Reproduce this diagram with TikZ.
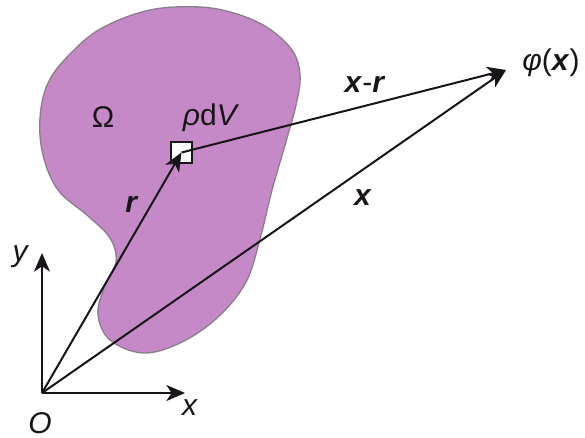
\documentclass[tikz,border=0pt]{standalone}
\usepackage{fontspec}
\setmainfont{Liberation Sans}
\usetikzlibrary{arrows.meta}
\definecolor{blobfill}{RGB}{198,137,200}
\definecolor{blobline}{RGB}{140,125,140}
\definecolor{ink}{RGB}{25,20,25}
\tikzset{
  vec/.style={draw=ink, line width=1.5pt, -{Stealth[length=14pt,width=12pt,inset=4pt]}},
  lbl/.style={inner sep=0pt, font=\fontsize{22.5}{26}\selectfont, text=ink},
  volbox/.style={draw=ink, fill=white, line width=1.4pt, minimum size=16pt, inner sep=0pt}
}
\begin{document}
\begin{tikzpicture}[x=0.75pt,y=-0.75pt]
\useasboundingbox (0,0) rectangle (585,438);
% region Omega
\draw[fill=blobfill, draw=blobline, line width=1pt]
  plot[smooth cycle, tension=0.6] coordinates {
  (150,10) (200,7) (237,14) (268,28) (292,50) (300,75) (296,105)
  (285,145) (272,190) (261,235) (246,282) (217,318) (180,343) (143,353)
  (110,340) (98,315) (104,288) (116,262) (110,238) (88,216) (58,190)
  (43,155) (40,118) (48,83) (70,54) (102,28)};
% points
\coordinate (O) at (42,393);
\coordinate (xtip) at (185,393);
\coordinate (ytip) at (42,253);
\coordinate (P) at (506,70);
\node[volbox] (sq) at (181.5,152.5) {};
% axes
\draw[vec] (O) -- (xtip);
\draw[vec] (O) -- (ytip);
% vectors
\draw[vec] (O) -- (sq.center);
\draw[vec] (sq.center) -- (P);
\draw[vec] (O) -- (P);
% labels
\node[lbl] (lO) at (40,423) {\textit{O}};
\node[lbl] (lx) at (190,408) {\textit{x}};
\node[lbl] (ly) at (21,257) {\textit{y}};
\node[lbl] (lOmega) at (103,117) {Ω};
\node[lbl] (lrho) at (211,118) {\textit{ρ}d\textit{V}};
\node[lbl] (lr) at (132,204) {\textbf{\textit{r}}};
\node[lbl] (lxr) at (365,84) {\textbf{\textit{x}}-\textbf{\textit{r}}};
\node[lbl] (lxv) at (363,198) {\textbf{\textit{x}}};
\node[lbl] (lphi) at (551,63) {\textit{φ}(\textbf{\textit{x}})};
\end{tikzpicture}
\end{document}
